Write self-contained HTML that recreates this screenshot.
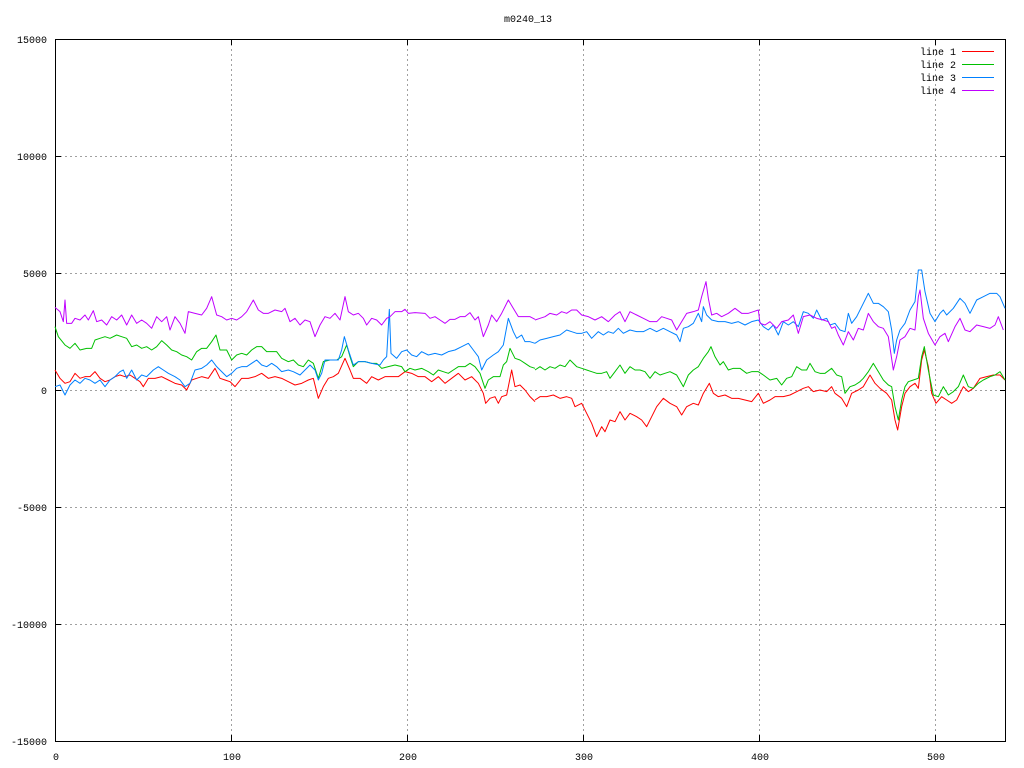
<!DOCTYPE html>
<html><head><style>body{margin:0;background:#fff}svg{display:block}text{font-family:"Liberation Mono","DejaVu Sans Mono",monospace;font-size:10px;fill:#000}</style></head>
<body>
<svg width="1024" height="768" viewBox="0 0 1024 768">
<rect width="1024" height="768" fill="#fff"/>
<g stroke="#a0a0a0" stroke-width="1" stroke-dasharray="2,3">
<line x1="55" y1="156.5" x2="1006" y2="156.5"/><line x1="55" y1="273.5" x2="1006" y2="273.5"/><line x1="55" y1="390.5" x2="1006" y2="390.5"/><line x1="55" y1="507.5" x2="1006" y2="507.5"/><line x1="55" y1="624.5" x2="1006" y2="624.5"/>
<line x1="231.5" y1="39" x2="231.5" y2="741"/><line x1="407.5" y1="39" x2="407.5" y2="741"/><line x1="583.5" y1="39" x2="583.5" y2="741"/><line x1="759.5" y1="39" x2="759.5" y2="741"/><line x1="935.5" y1="39" x2="935.5" y2="741"/>
</g>
<rect x="55.5" y="39.5" width="950" height="702" fill="none" stroke="#000"/>
<g stroke="#000">
<path d="M55 39.5h6M55 156.5h6M55 273.5h6M55 390.5h6M55 507.5h6M55 624.5h6M55 741.5h6M1006 39.5h-6M1006 156.5h-6M1006 273.5h-6M1006 390.5h-6M1006 507.5h-6M1006 624.5h-6M1006 741.5h-6"/>
<path d="M55.5 741v-6M231.5 741v-6M407.5 741v-6M583.5 741v-6M759.5 741v-6M935.5 741v-6M55.5 39v6M231.5 39v6M407.5 39v6M583.5 39v6M759.5 39v6M935.5 39v6"/>
</g>
<g text-anchor="end">
<text x="47" y="43">15000</text><text x="47" y="160">10000</text><text x="47" y="277">5000</text><text x="47" y="394">0</text><text x="47" y="511">-5000</text><text x="47" y="628">-10000</text><text x="47" y="745">-15000</text>
</g>
<g text-anchor="middle">
<text x="56" y="760">0</text><text x="232" y="760">100</text><text x="408" y="760">200</text><text x="584" y="760">300</text><text x="760" y="760">400</text><text x="936" y="760">500</text>
<text x="528" y="22">m0240_13</text>
</g>
<g text-anchor="end">
<text x="956" y="55">line 1</text><text x="956" y="68">line 2</text><text x="956" y="81">line 3</text><text x="956" y="94">line 4</text>
</g>
<g stroke-width="1">
<line x1="962" y1="51.5" x2="994" y2="51.5" stroke="#ff0000"/>
<line x1="962" y1="64.5" x2="994" y2="64.5" stroke="#00c000"/>
<line x1="962" y1="77.5" x2="994" y2="77.5" stroke="#0080ff"/>
<line x1="962" y1="90.5" x2="994" y2="90.5" stroke="#c000ff"/>
</g>
<g fill="none" stroke-width="1" stroke-linejoin="round">
<g transform="translate(55,270) scale(0.33333)">
<polyline vector-effect="non-scaling-stroke" stroke="#ff0000" points="0,300 15,325 30,340 45,335 60,310 75,325 90,320 105,320 120,305 135,325 150,335 165,330 180,320 195,315 210,320 225,315 240,325 255,335 265,350 280,325 300,325 320,320 340,330 360,340 380,345 395,360 410,330 425,325 440,320 460,325 480,295 495,325 510,330 525,335 540,350 560,325 580,325 600,320 620,310 640,325 660,320 680,325 700,335 720,345 740,340 760,330 775,325 790,385 805,350 820,325 835,320 850,310 870,265 885,300 895,325 915,325 935,340 950,320 970,330 990,320 1010,320 1030,320 1050,305 1070,310 1090,320 1110,320 1130,335 1150,320 1170,340 1190,325 1210,310 1230,330 1250,320 1270,340 1285,370 1292,400 1305,385 1320,380 1330,400 1340,380 1355,375 1370,300 1380,350 1395,345 1410,360 1425,380 1440,395"/>
<polyline vector-effect="non-scaling-stroke" stroke="#00c000" points="0,170 10,200 30,225 45,235 60,220 75,240 95,235 110,235 120,210 135,205 150,200 165,205 185,195 200,200 215,205 230,230 245,225 260,235 275,230 290,240 305,230 320,212 335,225 350,240 365,245 380,255 395,260 410,270 425,245 440,235 455,235 470,215 483,195 495,240 515,240 530,270 545,255 560,250 575,255 590,240 605,230 620,230 635,245 650,245 665,245 680,265 700,275 715,270 730,285 745,290 760,270 775,280 790,325 805,275 825,270 845,270 860,260 875,225 885,260 895,290 910,275 930,275 950,280 965,280 980,295 1000,290 1020,285 1040,290 1050,305 1065,295 1080,300 1100,295 1120,305 1135,315 1150,300 1165,305 1180,310 1195,300 1210,290 1230,290 1245,280 1260,290 1275,310 1290,355 1300,330 1315,320 1335,320 1345,285 1355,275 1365,235 1380,265 1395,270 1410,280 1425,290 1440,295"/>
<polyline vector-effect="non-scaling-stroke" stroke="#0080ff" points="0,350 15,345 30,375 45,345 60,330 75,340 90,325 105,330 120,340 135,330 150,350 165,330 180,320 195,305 205,300 215,325 230,300 245,330 260,315 275,320 295,300 310,290 325,300 340,310 360,320 375,330 390,350 405,340 420,300 440,295 455,285 470,270 485,290 500,305 515,320 530,310 545,295 560,290 575,290 590,280 605,270 620,285 635,290 650,280 665,290 680,305 700,300 715,305 735,315 750,300 765,285 780,300 790,330 800,310 810,270 830,270 850,270 860,240 868,200 880,240 895,285 910,275 930,275 950,280 975,285 985,270 995,260 1003,118 1008,250 1025,265 1040,245 1055,240 1070,255 1085,260 1100,245 1120,255 1140,250 1160,255 1180,245 1200,240 1220,230 1240,220 1255,240 1270,260 1280,300 1295,270 1315,255 1330,245 1345,225 1360,145 1375,185 1385,205 1400,195 1410,215 1425,215 1440,220"/>
<polyline vector-effect="non-scaling-stroke" stroke="#c000ff" points="0,112 15,125 25,155 30,90 35,160 50,160 60,145 75,150 90,135 100,150 115,122 125,155 140,150 155,165 170,140 185,150 200,135 215,165 230,135 245,160 260,150 275,160 290,175 305,140 320,155 335,140 345,180 360,140 375,160 390,190 400,125 420,130 440,135 455,115 470,80 485,135 500,140 515,150 530,145 545,150 560,140 575,125 595,90 610,120 625,130 640,130 660,120 680,125 690,115 705,155 720,145 735,165 750,150 765,155 780,200 795,165 810,140 825,145 840,130 855,150 870,80 880,125 895,135 910,130 925,145 935,165 950,145 965,150 980,165 995,145 1005,140 1020,125 1040,125 1050,118 1060,130 1080,128 1110,130 1125,145 1140,140 1155,150 1170,160 1185,148 1200,148 1215,140 1230,140 1245,128 1260,150 1270,140 1285,200 1300,165 1310,135 1325,155 1340,130 1360,90 1375,115 1390,140 1410,140 1425,140 1440,148"/>
</g>
<g transform="translate(530,260) scale(0.33333)">
<polyline vector-effect="non-scaling-stroke" stroke="#ff0000" points="15,420 30,410 50,410 70,405 90,415 110,410 125,415 135,440 155,430 170,460 185,490 200,530 215,500 225,515 240,480 255,485 270,455 285,480 300,460 320,470 335,480 350,500 365,470 380,440 400,415 420,430 440,440 455,465 470,440 490,430 505,435 520,400 538,370 550,400 565,410 585,405 605,415 625,415 645,420 665,425 685,400 700,430 720,420 735,410 760,410 780,405 800,395 820,385 835,380 850,395 870,390 890,395 905,380 915,400 935,415 950,440 965,400 985,390 1000,380 1020,345 1035,370 1050,385 1070,400 1085,420 1095,480 1103,510 1115,440 1125,400 1140,380 1155,370 1165,385 1175,300 1183,270 1195,320 1205,400 1218,430 1235,410 1250,420 1265,430 1280,420 1300,380 1315,395 1330,385 1350,355 1370,350 1390,345 1410,345 1425,360"/>
<polyline vector-effect="non-scaling-stroke" stroke="#00c000" points="15,330 30,320 45,330 60,320 75,325 90,315 105,320 120,300 140,320 155,325 170,330 185,335 200,340 215,340 230,335 240,355 255,335 270,315 285,340 300,320 315,330 330,330 345,335 360,355 375,335 390,345 405,340 420,335 440,345 460,380 475,345 490,330 505,320 520,295 535,275 543,260 555,290 570,315 580,305 595,330 610,325 630,325 650,340 665,335 685,335 700,345 720,360 740,355 755,375 770,355 785,350 800,320 815,330 830,330 840,310 855,335 870,340 885,340 905,325 920,345 935,350 945,400 960,380 975,375 990,365 1000,355 1015,335 1030,310 1045,335 1060,360 1075,375 1085,380 1095,440 1105,480 1115,420 1125,380 1135,365 1150,360 1165,355 1175,290 1183,260 1195,330 1210,405 1225,410 1240,380 1255,405 1270,395 1285,380 1300,345 1315,380 1330,385 1345,370 1360,360 1380,350 1395,345 1410,335 1425,360"/>
<polyline vector-effect="non-scaling-stroke" stroke="#0080ff" points="15,250 30,240 50,235 70,230 90,225 110,210 125,215 140,220 155,220 170,215 185,235 205,215 220,225 235,215 250,220 265,205 280,220 300,210 320,215 340,215 360,205 380,215 400,205 420,215 440,225 450,245 460,205 475,200 490,190 505,160 515,185 520,140 530,165 545,180 565,185 585,185 605,190 625,185 645,195 665,185 685,180 700,200 715,210 730,195 745,225 760,185 775,195 790,185 805,200 820,155 835,160 850,175 860,150 875,180 890,175 900,195 915,190 930,210 945,215 955,160 965,190 980,170 995,140 1015,100 1030,130 1045,130 1060,140 1075,155 1085,210 1093,280 1100,240 1110,210 1125,190 1140,150 1155,125 1165,30 1175,30 1185,95 1200,160 1215,185 1230,160 1240,150 1250,165 1270,145 1290,115 1305,130 1320,160 1340,120 1360,110 1380,100 1400,100 1410,110 1425,145"/>
<polyline vector-effect="non-scaling-stroke" stroke="#c000ff" points="15,180 30,175 45,170 60,160 80,165 95,155 110,160 125,150 140,150 155,165 175,170 195,180 215,170 235,185 255,165 270,155 285,185 300,155 320,165 340,175 360,185 380,185 395,170 410,175 425,180 440,210 455,185 470,160 490,155 505,150 515,110 528,65 535,115 545,165 560,160 575,170 595,160 615,145 635,160 655,160 670,155 685,150 690,190 705,195 720,185 740,205 755,185 775,180 790,165 805,220 820,170 840,165 860,175 880,180 895,185 905,205 915,200 925,225 940,255 955,215 970,240 985,205 1000,210 1015,160 1030,185 1045,200 1060,205 1075,230 1090,330 1100,290 1110,240 1125,230 1140,205 1155,210 1165,110 1170,90 1180,175 1195,220 1215,255 1230,230 1245,220 1255,245 1275,200 1290,175 1305,210 1320,215 1340,195 1360,200 1380,205 1395,195 1405,170 1420,210"/>
</g>
</g>
</svg>
</body></html>
